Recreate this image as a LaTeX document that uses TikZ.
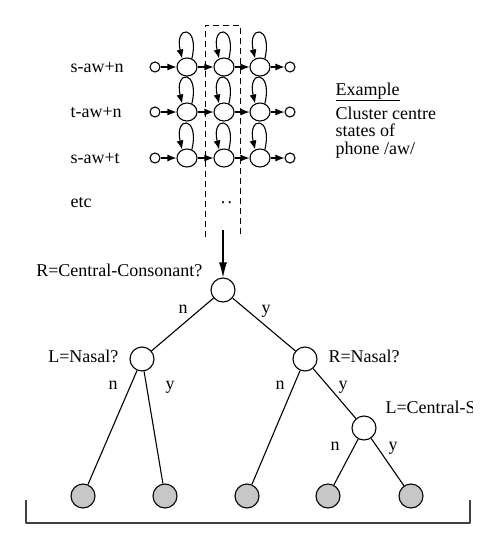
\documentclass[tikz,border=0pt]{standalone}
\usepackage{fontspec}
\setmainfont{Liberation Serif}
\usetikzlibrary{arrows.meta,shapes.geometric}
\begin{document}
\begin{tikzpicture}[x=1pt,y=-1pt,>={Latex[length=9pt,width=7pt]},
	font=\fontsize{18}{17.5}\selectfont, line width=1.1pt, line join=round,
	state/.style={draw,ellipse,minimum width=20pt,minimum height=18pt,inner sep=0pt},
	term/.style={draw,circle,minimum size=10pt,inner sep=0pt},
	quest/.style={draw,circle,minimum size=24pt,inner sep=0pt,fill=white},
	leaf/.style={draw,circle,minimum size=24pt,inner sep=0pt,fill=black!22},
	lab/.style={inner sep=0pt}]
	\useasboundingbox (0,0) rectangle (497,544);
	%	HMMs of the three triphones
	\foreach \row/\y/\name in {1/67/s-aw+n, 2/112/t-aw+n, 3/158/s-aw+t}{
		\node[lab,anchor=base west] (name\row) at (70,\y+5) {\name};
		\node[term] (in\row) at (155,\y) {};
		\node[state] (a\row) at (187,\y) {};
		\node[state] (b\row) at (224,\y) {};
		\node[state] (c\row) at (260,\y) {};
		\node[term] (out\row) at (290,\y) {};
		\draw[->] (in\row)--(a\row);
		\draw[->] (a\row)--(b\row);
		\draw[->] (b\row)--(c\row);
		\draw[->] (c\row)--(out\row);
		\foreach \s in {a,b,c}
			\draw[->] (\s\row.60) .. controls +(8,-34) and +(-8,-34) .. (\s\row.120);
	}
	\node[lab,anchor=base west] (etc) at (70,207) {etc};
	\node[lab,anchor=base] (dots) at (226.5,203) {.\hspace{2.5pt}.};
	\draw[line width=0.9pt,dash pattern=on 6pt off 4pt] (205,237)--(205,25)--(240,25)--(240,237);
	\node[lab,anchor=base west] (example) at (335,95) {\underline{Example}};
	\node[lab,anchor=north west,align=left] (note) at (335,106) {Cluster centre\\states of\\phone /aw/};
	%	decision tree
	\node[quest] (root) at (223,290) {};
	\node[quest] (lnas) at (142,359) {};
	\node[quest] (rnas) at (305,359) {};
	\node[quest] (lcen) at (364,428) {};
	\node[leaf] (leafa) at (83,496) {};
	\node[leaf] (leafb) at (165,496) {};
	\node[leaf] (leafc) at (247,496) {};
	\node[leaf] (leafd) at (328,496) {};
	\node[leaf] (leafe) at (411,496) {};
	\coordinate (boxend) at (223,230);
	\draw[-{Latex[length=15pt,width=8pt]}] (boxend)--(root);
	\draw (root)--(lnas);
	\draw (root)--(rnas);
	\draw (lnas)--(leafa);
	\draw (lnas)--(leafb);
	\draw (rnas)--(leafc);
	\draw (rnas)--(lcen);
	\draw (lcen)--(leafd);
	\draw (lcen)--(leafe);
	\node[lab,anchor=base east] (qroot) at (203,276) {R=Central-Consonant?};
	\node[lab,anchor=base east] (qlnas) at (119,362) {L=Nasal?};
	\node[lab,anchor=base west] (qrnas) at (328,362) {R=Nasal?};
	\begin{scope}
		\clip (0,0) rectangle (472,544);
		\node[lab,anchor=base west] (qlcen) at (385,413) {L=Central-S};
	\end{scope}
	\node[lab,anchor=base] (rootn) at (183,313) {n};
	\node[lab,anchor=base] (rooty) at (266,313) {y};
	\node[lab,anchor=base] (lnasn) at (113,389) {n};
	\node[lab,anchor=base] (lnasy) at (170,389) {y};
	\node[lab,anchor=base] (rnasn) at (280,389) {n};
	\node[lab,anchor=base] (rnasy) at (343,389) {y};
	\node[lab,anchor=base] (lcenn) at (335,450) {n};
	\node[lab,anchor=base] (lceny) at (393,450) {y};
	\draw[line width=1.3pt,black!75] (26,500)--(26,523)--(470,523)--(470,500);
\end{tikzpicture}
\end{document}
